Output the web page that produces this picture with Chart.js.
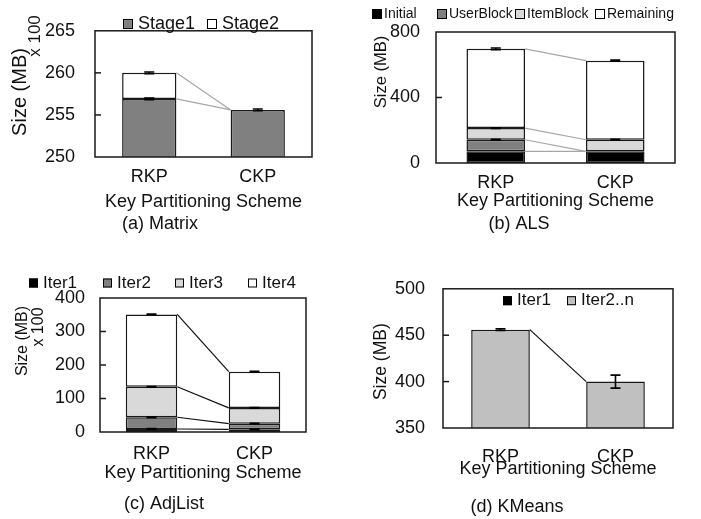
<!DOCTYPE html>
<html>
<head>
<meta charset="utf-8">
<script src="https://cdn.jsdelivr.net/npm/chart.js@4.4.1/dist/chart.umd.min.js"></script>
<style>
  html, body { margin: 0; padding: 0; background: #fff; }
  #page { position: relative; width: 701px; height: 519px; }
  canvas { position: absolute; }
</style>
</head>
<body>
<div id="page">
  <canvas id="matrixChart" width="350" height="260" style="left:0;top:0"></canvas>
  <canvas id="alsChart" width="351" height="260" style="left:350px;top:0"></canvas>
  <canvas id="adjChart" width="350" height="259" style="left:0;top:260px"></canvas>
  <canvas id="kmeansChart" width="351" height="259" style="left:350px;top:260px"></canvas>
</div>
<script>
const schemes = ["RKP", "CKP"];

// (a) Matrix, MB x 100
const matrixStage1 = [256.9, 255.6];
const matrixStage2 = [3.1, 0];
const matrixStage1Err = [0.1, 0.1];
const matrixStage2Err = [0.1, 0];
const matrixTicks = [250, 255, 260, 265];

// (b) ALS, MB
const alsInitial = [71, 71];
const alsUserBlock = [71, 0];
const alsItemBlock = [71, 71];
const alsRemaining = [484, 483];
const alsUserErr = [2, 0];
const alsItemErr = [2, 2];
const alsRemainingErr = [5, 4];
const alsTicks = [0, 400, 800];

// (c) AdjList, MB x 100
const adjIter1 = [9, 8];
const adjIter2 = [35, 17];
const adjIter3 = [91, 47];
const adjIter4 = [216, 108];
const adjErr = [1, 1];
const adjTicks = [0, 100, 200, 300, 400];

// (d) KMeans, MB
const kmIter1 = [2, 2];
const kmIter2n = [454, 398];
const kmIter2nErr = [1, 7];
const kmTicks = [350, 400, 450, 500];

const FONT = "'Liberation Sans', Arial, Helvetica, sans-serif";
const INK = "#111";

// frame, inward ticks, link lines, error bars, legend and free texts
const paperDecor = {
  id: "paperDecor",
  afterDatasetsDraw(chart, args, o) {
    const { ctx, chartArea: a } = chart;
    const y = chart.scales.y;
    const sets = chart.data.datasets;
    ctx.save();
    ctx.beginPath();
    ctx.rect(a.left, a.top, a.right - a.left, a.bottom - a.top);
    ctx.clip();

    ctx.strokeStyle = o.linkColor;
    ctx.lineWidth = 1.2;
    sets.forEach((ds, i) => {
      const [r, c] = chart.getDatasetMeta(i).data;
      ctx.beginPath();
      ctx.moveTo(r.x + r.width / 2, r.y);
      ctx.lineTo(c.x - c.width / 2, c.y);
      ctx.stroke();
    });

    ctx.strokeStyle = "#000";
    ctx.lineWidth = 1.6;
    sets.forEach((ds, i) => {
      if (!ds.errors) return;
      chart.getDatasetMeta(i).data.forEach((el, j) => {
        const err = ds.errors[j];
        if (!err) return;
        let total = 0;
        for (let k = 0; k <= i; k++) total += sets[k].data[j];
        const hi = y.getPixelForValue(total + err);
        const lo = y.getPixelForValue(total - err);
        ctx.beginPath();
        ctx.moveTo(el.x, hi); ctx.lineTo(el.x, lo);
        ctx.moveTo(el.x - 5, hi); ctx.lineTo(el.x + 5, hi);
        ctx.moveTo(el.x - 5, lo); ctx.lineTo(el.x + 5, lo);
        ctx.stroke();
      });
    });
    ctx.restore();
  },
  afterDraw(chart, args, o) {
    const { ctx, chartArea: a } = chart;
    const y = chart.scales.y;
    ctx.save();
    ctx.strokeStyle = "#1a1a1a";
    ctx.lineWidth = 1.5;
    ctx.strokeRect(a.left, a.top, a.right - a.left, a.bottom - a.top);
    y.ticks.forEach(t => {
      if (t.value === y.min || t.value === y.max) return;
      const py = y.getPixelForValue(t.value);
      ctx.beginPath();
      ctx.moveTo(a.left, py);
      ctx.lineTo(a.left + 6, py);
      ctx.stroke();
    });

    const lg = o.legend;
    ctx.font = lg.size + "px " + FONT;
    ctx.textBaseline = "middle";
    ctx.textAlign = "left";
    chart.data.datasets.forEach((ds, i) => {
      const bx = lg.xs[i];
      const by = lg.y - lg.box / 2;
      ctx.fillStyle = ds.backgroundColor;
      ctx.fillRect(bx, by, lg.box, lg.box);
      ctx.lineWidth = 1;
      ctx.strokeStyle = "#000";
      ctx.strokeRect(bx + 0.5, by + 0.5, lg.box - 1, lg.box - 1);
      ctx.fillStyle = INK;
      ctx.fillText(ds.label, bx + lg.box + lg.gap, lg.y);
    });

    ctx.textAlign = "center";
    o.texts.forEach(t => {
      ctx.save();
      ctx.font = t.size + "px " + FONT;
      ctx.fillStyle = INK;
      ctx.translate(t.x, t.y);
      if (t.rotate) ctx.rotate(-Math.PI / 2);
      ctx.fillText(t.text, 0, 0);
      ctx.restore();
    });
    ctx.restore();
  }
};

function makePanel(canvasId, p) {
  return new Chart(document.getElementById(canvasId), {
    type: "bar",
    data: {
      labels: schemes,
      datasets: p.datasets.map(d => ({
        label: d.label,
        data: d.data,
        errors: d.err,
        backgroundColor: d.color,
        borderColor: "#1a1a1a",
        borderWidth: 1.5,
        borderSkipped: false,
        barPercentage: p.barPct,
        categoryPercentage: 1,
      })),
    },
    options: {
      responsive: false,
      animation: false,
      events: [],
      layout: { padding: { left: 0, right: p.padRight, top: p.padTop, bottom: 0 } },
      plugins: {
        legend: { display: false },
        tooltip: { enabled: false },
        paperDecor: { linkColor: p.linkColor, legend: p.legend, texts: p.texts },
      },
      scales: {
        x: {
          stacked: true,
          grid: { display: false, drawTicks: false },
          border: { display: false },
          ticks: { color: INK, font: { family: FONT, size: 18 }, padding: p.xTickPad },
          title: {
            display: true,
            text: "Key Partitioning Scheme",
            color: INK,
            font: { family: FONT, size: 18 },
            padding: { top: 0, bottom: p.xTitlePad },
          },
          afterFit: s => { s.height = p.xHeight; },
        },
        y: {
          stacked: true,
          min: p.ticks[0],
          max: p.ticks[p.ticks.length - 1],
          grid: { display: false, drawTicks: false },
          border: { display: false },
          ticks: { color: INK, font: { family: FONT, size: 18 }, padding: p.yTickPad },
          afterBuildTicks: s => { s.ticks = p.ticks.map(v => ({ value: v })); },
          afterFit: s => { s.width = p.yWidth; },
        },
      },
    },
    plugins: [paperDecor],
  });
}

makePanel("matrixChart", {
  datasets: [
    { label: "Stage1", data: matrixStage1, err: matrixStage1Err, color: "#808080" },
    { label: "Stage2", data: matrixStage2, err: matrixStage2Err, color: "#ffffff" },
  ],
  ticks: matrixTicks,
  padTop: 8, padRight: 38, yWidth: 95, xHeight: 103,
  xTickPad: 9, xTitlePad: 47, yTickPad: 20, barPct: 0.5,
  linkColor: "#a6a6a6",
  legend: { xs: [123, 207], y: 24, size: 18, box: 10, gap: 5 },
  texts: [
    { text: "Size (MB)", x: 20, y: 92, size: 20, rotate: true },
    { text: "x 100", x: 35, y: 36, size: 17, rotate: true },
    { text: "(a) Matrix", x: 160, y: 224, size: 18 },
  ],
});

makePanel("alsChart", {
  datasets: [
    { label: "Initial", data: alsInitial, color: "#000000" },
    { label: "UserBlock", data: alsUserBlock, err: alsUserErr, color: "#808080" },
    { label: "ItemBlock", data: alsItemBlock, err: alsItemErr, color: "#d9d9d9" },
    { label: "Remaining", data: alsRemaining, err: alsRemainingErr, color: "#ffffff" },
  ],
  ticks: alsTicks,
  padTop: 32, padRight: 26, yWidth: 86, xHeight: 97,
  xTickPad: 9, xTitlePad: 48.5, yTickPad: 16, barPct: 0.49,
  linkColor: "#a6a6a6",
  legend: { xs: [22, 87, 165, 245], y: 14, size: 14, box: 10, gap: 2 },
  texts: [
    { text: "Size (MB)", x: 31, y: 72, size: 16.5, rotate: true },
    { text: "(b) ALS", x: 169, y: 224, size: 18 },
  ],
});

makePanel("adjChart", {
  datasets: [
    { label: "Iter1", data: adjIter1, err: adjErr, color: "#000000" },
    { label: "Iter2", data: adjIter2, err: adjErr, color: "#808080" },
    { label: "Iter3", data: adjIter3, err: adjErr, color: "#d9d9d9" },
    { label: "Iter4", data: adjIter4, err: adjErr, color: "#ffffff" },
  ],
  ticks: adjTicks,
  padTop: 38, padRight: 44, yWidth: 100, xHeight: 87,
  xTickPad: 11, xTitlePad: 35.5, yTickPad: 15, barPct: 0.5,
  linkColor: "#111111",
  legend: { xs: [29, 103, 175, 248], y: 23, size: 17, box: 9, gap: 5 },
  texts: [
    { text: "Size (MB)", x: 23, y: 81, size: 16, rotate: true },
    { text: "x 100", x: 39, y: 67, size: 16, rotate: true },
    { text: "(c) AdjList", x: 164, y: 244.5, size: 18 },
  ],
});

makePanel("kmeansChart", {
  datasets: [
    { label: "Iter1", data: kmIter1, color: "#000000" },
    { label: "Iter2..n", data: kmIter2n, err: kmIter2nErr, color: "#c0c0c0" },
  ],
  ticks: kmTicks,
  padTop: 20, padRight: 28, yWidth: 93, xHeight: 91,
  xTickPad: 18, xTitlePad: 39, yTickPad: 18, barPct: 0.51,
  linkColor: "#111111",
  legend: { xs: [153, 217], y: 40.7, size: 17, box: 9, gap: 5 },
  texts: [
    { text: "Size (MB)", x: 31, y: 101.7, size: 17.5, rotate: true },
    { text: "(d) KMeans", x: 167, y: 247, size: 18 },
  ],
});
</script>
</body>
</html>
